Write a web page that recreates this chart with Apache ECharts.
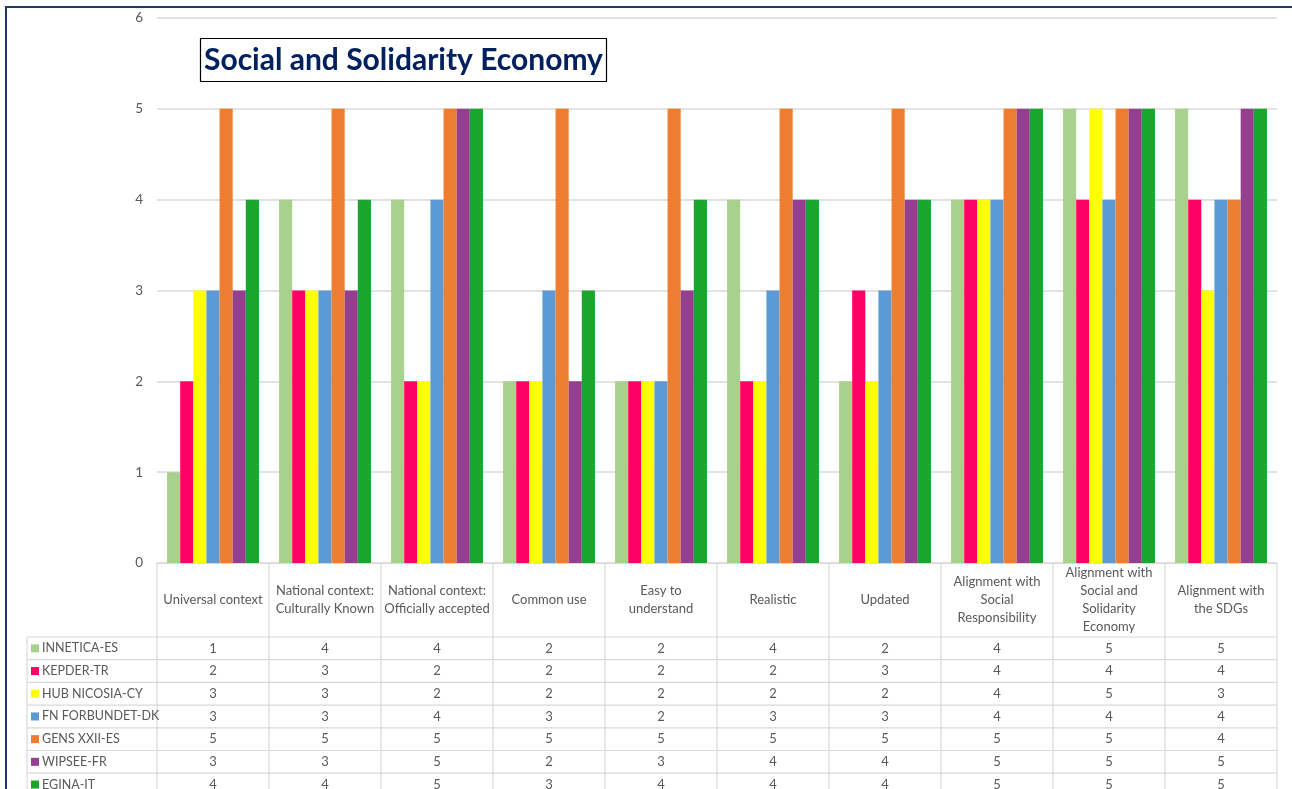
<!DOCTYPE html>
<html>
<head>
<meta charset="utf-8">
<script src="https://cdn.jsdelivr.net/npm/echarts@6/dist/echarts.min.js"></script>
<style>
html,body{margin:0;padding:0;background:#fff;}
#chart{width:1292px;height:789px;}
</style>
</head>
<body>
<div id="chart"></div>
<script>
const categories = [
  "Universal context",
  "National context:\nCulturally Known",
  "National context:\nOfficially accepted",
  "Common use",
  "Easy to\nunderstand",
  "Realistic",
  "Updated",
  "Alignment with\nSocial\nResponsibility",
  "Alignment with\nSocial and\nSolidarity\nEconomy",
  "Alignment with\nthe SDGs"
];
const seriesNames = ["INNETICA-ES","KEPDER-TR","HUB NICOSIA-CY","FN FORBUNDET-DK","GENS XXII-ES","WIPSEE-FR","EGINA-IT"];
const innetica = [1,4,4,2,2,4,2,4,5,5];
const kepder   = [2,3,2,2,2,2,3,4,4,4];
const hub      = [3,3,2,2,2,2,2,4,5,3];
const fn       = [3,3,4,3,2,3,3,4,4,4];
const gens     = [5,5,5,5,5,5,5,5,5,4];
const wipsee   = [3,3,5,2,3,4,4,5,5,5];
const egina    = [4,4,5,3,4,4,4,5,5,5];
const yTicks = [0,1,2,3,4,5,6];
const colors = ["#A9D18E","#FF0066","#FFFF00","#5B9BD5","#ED7D31","#953F8F","#19A62B"];
const seriesData = [innetica,kepder,hub,fn,gens,wipsee,egina];

const FONT = "Lato";
const chart = echarts.init(document.getElementById('chart'));
const gridLeft = 157, gridRight = 15, gridTop = 18, gridBottom = 226;
const headerH = 74, rowH = 22.7, tableLeft = 27;

const option = {
  animation: false,
  title: {
    text: "Social and Solidarity Economy",
    left: 200, top: 38,
    borderColor: "#000", borderWidth: 1.2,
    padding: [7, 4, 7, 4],
    textStyle: { fontFamily: FONT, fontWeight: "bold", fontSize: 30, color: "#002060" }
  },
  grid: { left: gridLeft, right: gridRight, top: gridTop, bottom: gridBottom, containLabel: false },
  xAxis: {
    type: "category",
    data: categories,
    axisLine: { show: true, lineStyle: { color: "#D9D9D9", width: 1 } },
    axisTick: { show: false },
    axisLabel: {
      interval: 0, margin: headerH / 2,
      verticalAlign: "middle",
      color: "#595959", fontFamily: FONT, fontSize: 13, lineHeight: 18
    }
  },
  yAxis: {
    type: "value", min: 0, max: 6, interval: 1,
    axisLine: { show: false }, axisTick: { show: false },
    axisLabel: { color: "#595959", fontFamily: FONT, fontSize: 13.5, margin: 14 },
    splitLine: { lineStyle: { color: "#D9D9D9", width: 1.5 } }
  },
  series: seriesNames.map((n, i) => ({
    name: n, type: "bar", data: seriesData[i],
    itemStyle: { color: colors[i] },
    barGap: "0%", barCategoryGap: "18%"
  }))
};
chart.setOption(option);

// Build data table with graphic elements, positioned from the axis
function buildTable() {
  const els = [];
  const x0 = chart.convertToPixel({ xAxisIndex: 0 }, 0);
  const x1 = chart.convertToPixel({ xAxisIndex: 0 }, 1);
  const cw = x1 - x0;
  const yBase = chart.convertToPixel({ yAxisIndex: 0 }, 0);
  const headTop = yBase;
  const headBot = headTop + headerH;
  const left = x0 - cw / 2;
  const right = chart.convertToPixel({ xAxisIndex: 0 }, categories.length - 1) + cw / 2;
  const nRows = seriesNames.length;
  const tableBottom = headBot + rowH * (nRows + 1);
  const ls = { stroke: "#D9D9D9", lineWidth: 1.2 };
  for (let i = 0; i <= categories.length; i++) {
    const x = left + i * cw;
    els.push({ type: "line", shape: { x1: x, y1: headTop, x2: x, y2: tableBottom }, style: ls, silent: true });
  }
  els.push({ type: "line", shape: { x1: tableLeft, y1: headBot, x2: tableLeft, y2: tableBottom }, style: ls, silent: true });
  for (let r = 0; r <= nRows; r++) {
    const y = headBot + r * rowH;
    els.push({ type: "line", shape: { x1: tableLeft, y1: y, x2: right, y2: y }, style: ls, silent: true });
  }
  for (let r = 0; r < nRows; r++) {
    const yc = headBot + (r + 0.5) * rowH;
    els.push({ type: "rect", shape: { x: tableLeft + 4, y: yc - 4, width: 8, height: 8 }, style: { fill: colors[r] }, silent: true });
    els.push({ type: "text", x: tableLeft + 15, y: yc, style: { text: seriesNames[r], fill: "#595959", font: "12.5px " + FONT, textVerticalAlign: "middle", textAlign: "left" }, silent: true });
    for (let c = 0; c < categories.length; c++) {
      const xc = chart.convertToPixel({ xAxisIndex: 0 }, c);
      els.push({ type: "text", x: xc, y: yc, style: { text: String(seriesData[r][c]), fill: "#595959", font: "13px " + FONT, textVerticalAlign: "middle", textAlign: "center" }, silent: true });
    }
  }
  els.push({ type: "rect", shape: { x: 6, y: 7, width: 1400, height: 900 }, style: { fill: "none", stroke: "#1F3864", lineWidth: 2 }, silent: true });
  chart.setOption({ graphic: els });
}
buildTable();
</script>
</body>
</html>
